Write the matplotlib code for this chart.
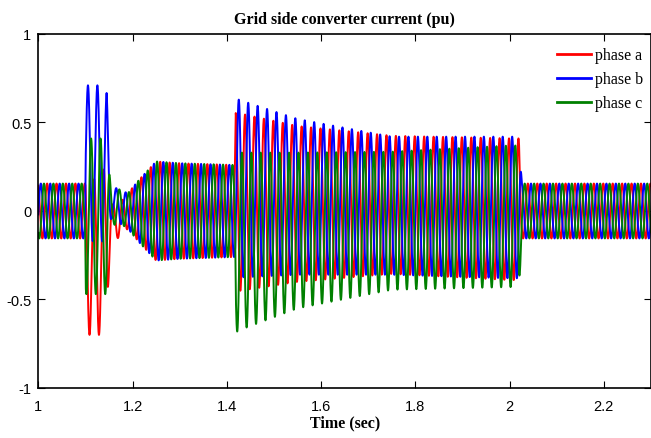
import numpy as np
import matplotlib
matplotlib.use("Agg")
import matplotlib.pyplot as plt

# Grid-side converter current, three phases (pu), 50 Hz system
freq_hz = 50.0
phase_b_rad = -0.126          # phase b reference angle
t_start, t_stop = 1.0, 2.3

# Common amplitude envelope (pu) at key instants
amp_t = [1.000, 1.0995, 1.1005, 1.145, 1.155, 1.190, 1.215, 1.250, 1.300,
         1.417, 1.419, 1.430, 1.550, 1.750, 2.000, 2.020, 2.026, 2.300]
amp_v = [0.155, 0.155, 0.44, 0.44, 0.09, 0.10, 0.18, 0.28, 0.27,
         0.26, 0.505, 0.50, 0.44, 0.39, 0.40, 0.40, 0.155, 0.155]

# DC offset of each phase (pu) at key instants
off_t = [1.000, 1.0995, 1.1005, 1.135, 1.145, 1.155, 1.170, 1.190, 1.417,
         1.419, 1.430, 1.550, 1.750, 2.000, 2.020, 2.026, 2.300]
off_a = [0, 0, -0.26, -0.26, -0.12, -0.05, -0.06, 0, 0,
         0.05, 0.05, 0.04, 0.035, 0.01, 0.01, 0, 0]
off_b = [0, 0, 0.27, 0.27, 0.23, 0.05, 0.03, 0, 0,
         0.13, 0.125, 0.08, 0.03, 0.02, 0.02, 0, 0]
off_c = [0, 0, -0.03, -0.03, -0.03, 0.0, 0.03, 0, 0,
         -0.18, -0.17, -0.11, -0.055, -0.03, -0.03, 0, 0]

labels = ["phase a", "phase b", "phase c"]
colors = ["#ff0000", "#0000ff", "#008000"]
x_ticks = [1, 1.2, 1.4, 1.6, 1.8, 2, 2.2]
x_tick_labels = ["1", "1.2", "1.4", "1.6", "1.8", "2", "2.2"]
y_ticks = [-1, -0.5, 0, 0.5, 1]
y_tick_labels = ["-1", "-0.5", "0", "0.5", "1"]

t = np.arange(t_start, t_stop, 1e-4)
amp = np.interp(t, amp_t, amp_v)
w = 2 * np.pi * freq_hz
shifts = [2 * np.pi / 3, 0.0, -2 * np.pi / 3]
offsets = [off_a, off_b, off_c]

fig = plt.figure(figsize=(6.51, 4.39), dpi=100)
ax = fig.add_axes([0.0588, 0.1139, 0.9412, 0.8064])

for lab, col, sh, off in zip(labels, colors, shifts, offsets):
    i = amp * np.sin(w * t + phase_b_rad + sh) + np.interp(t, off_t, off)
    ax.plot(t, i, color=col, lw=1.4, label=lab)

ax.set_xlim(t_start, t_stop)
ax.set_ylim(-1, 1)
ax.set_xticks(x_ticks)
ax.set_xticklabels(x_tick_labels)
ax.set_yticks(y_ticks)
ax.set_yticklabels(y_tick_labels)
ax.tick_params(direction="in", top=True, right=True, length=5, width=0.8,
               labelsize=10.5)
ax.tick_params(axis="x", pad=8)
ax.tick_params(axis="y", pad=5)
for lbl in ax.get_xticklabels() + ax.get_yticklabels():
    lbl.set_family("Liberation Sans")
for sp in ax.spines.values():
    sp.set_linewidth(1.2)

ax.set_title("Grid side converter current (pu)", family="Liberation Serif",
             fontweight="bold", fontsize=11.5, pad=8)
ax.set_xlabel("Time (sec)", family="Liberation Serif", fontweight="bold",
              fontsize=11.5, labelpad=1)

leg = ax.legend(loc="upper right", bbox_to_anchor=(0.997, 0.980),
                borderaxespad=0, frameon=False,
                prop={"family": "Liberation Serif", "size": 11.5},
                handlelength=2.1, handletextpad=0.25, labelspacing=0.5)
for h in leg.get_lines():
    h.set_linewidth(2)

fig.savefig("out.png", dpi=100)
